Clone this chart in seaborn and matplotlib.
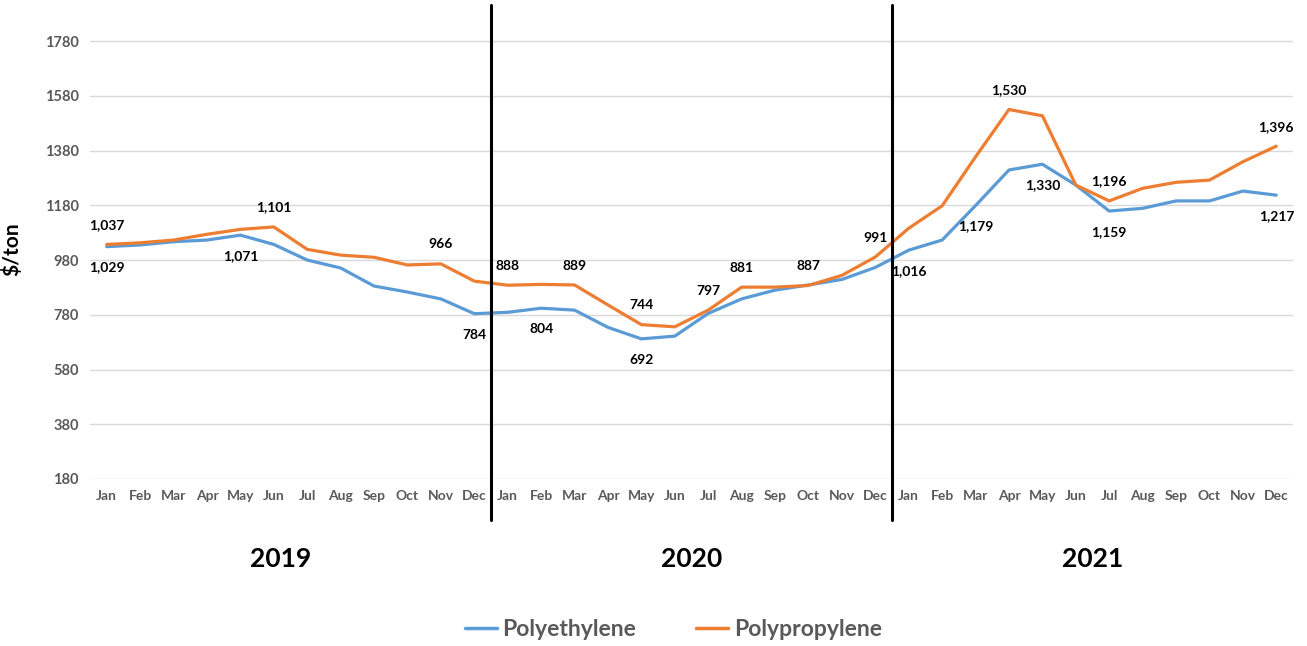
import numpy as np
import pandas as pd
import matplotlib
matplotlib.use("Agg")
import matplotlib.pyplot as plt
import seaborn as sns

months = ["Jan", "Feb", "Mar", "Apr", "May", "Jun",
          "Jul", "Aug", "Sep", "Oct", "Nov", "Dec"]
years = ["2019", "2020", "2021"]

polyethylene = [1029, 1035, 1047, 1053, 1071, 1037, 980, 951, 885, 863, 838, 784,
                789, 804, 797, 734, 692, 702, 785, 838, 870, 889, 909, 953,
                1016, 1053, 1179, 1309, 1330, 1254, 1159, 1169, 1196, 1196, 1232, 1217]
polypropylene = [1037, 1043, 1053, 1074, 1092, 1101, 1019, 998, 990, 962, 966, 903,
                 888, 891, 889, 816, 744, 736, 797, 881, 881, 887, 924, 991,
                 1096, 1178, 1357, 1530, 1507, 1254, 1196, 1242, 1264, 1272, 1339, 1396]

# which points get a value label: index -> "above" / "below"
pe_labels = {0: "below", 4: "below", 11: "below", 13: "below", 16: "below",
             24: "below", 26: "below", 28: "below", 30: "below", 35: "below"}
pp_labels = {0: "above", 5: "above", 10: "above", 12: "above", 14: "above",
             16: "above", 18: "above", 19: "above", 21: "above", 23: "above",
             27: "above", 30: "above", 35: "above"}

yticks = list(range(180, 1781, 200))

n = len(polyethylene)
df = pd.DataFrame({
    "idx": list(range(n)) * 2,
    "price": polyethylene + polypropylene,
    "series": ["Polyethylene"] * n + ["Polypropylene"] * n,
})

sns.set_style("white")
plt.rcParams["font.family"] = ["Lato", "DejaVu Sans"]

fig = plt.figure(figsize=(13.07, 6.46), dpi=100)
W, H = 1307, 646
ax = fig.add_axes([90 / W, 1 - 479 / H, 1203 / W, 459 / H])

colors = {"Polyethylene": "#5B9BD5", "Polypropylene": "#ED7D31"}
sns.lineplot(data=df, x="idx", y="price", hue="series", palette=colors,
             linewidth=2.3, ax=ax, legend=False)

ax.set_xlim(-0.5, 35.5)
ax.set_ylim(180, 1857)
ax.set_yticks(yticks)
ax.set_yticklabels([str(t) for t in yticks], color="#595959",
                   fontsize=10.5, fontweight="bold")
ax.set_xticks(range(n))
ax.set_xticklabels(months * 3, color="#595959", fontsize=10, fontweight="bold")
ax.tick_params(axis="both", length=0, pad=8)
ax.yaxis.grid(True, color="#d9d9d9", linewidth=1)
ax.set_axisbelow(True)
for s in ax.spines.values():
    s.set_visible(False)
ax.set_xlabel("")
ax.set_ylabel("$/ton", fontsize=15, fontweight="bold", color="black", labelpad=16)

for ys, labels in ((polyethylene, pe_labels), (polypropylene, pp_labels)):
    for i, pos in labels.items():
        off = 14 if pos == "above" else -15
        ax.annotate(f"{ys[i]:,}", (i, ys[i]), textcoords="offset points",
                    xytext=(0, off), ha="center", va="center",
                    fontsize=10, fontweight="bold", color="black",
                    annotation_clip=False)

# year separators
for x in (11.5, 23.5):
    ax.axvline(x, ymin=-0.089, ymax=1.033,
               color="black", linewidth=2.2, clip_on=False)

# year labels
for k, yr in enumerate(years):
    ax.text(k * 12 + 5.2 if k == 0 else k * 12 + 5.5, -0.175, yr,
            transform=ax.get_xaxis_transform(), ha="center", va="center",
            fontsize=19, fontweight="bold", color="black")

handles = [plt.Line2D([], [], color=colors[s], linewidth=2.5) for s in colors]
fig.legend(handles, list(colors), loc="center", bbox_to_anchor=(0.515, 1 - 630 / H),
           ncol=2, frameon=False, handlelength=1.4, handletextpad=0.25,
           columnspacing=2.6, prop={"size": 16.5, "weight": "bold"},
           labelcolor="#595959")

fig.savefig("out.png", dpi=100)
